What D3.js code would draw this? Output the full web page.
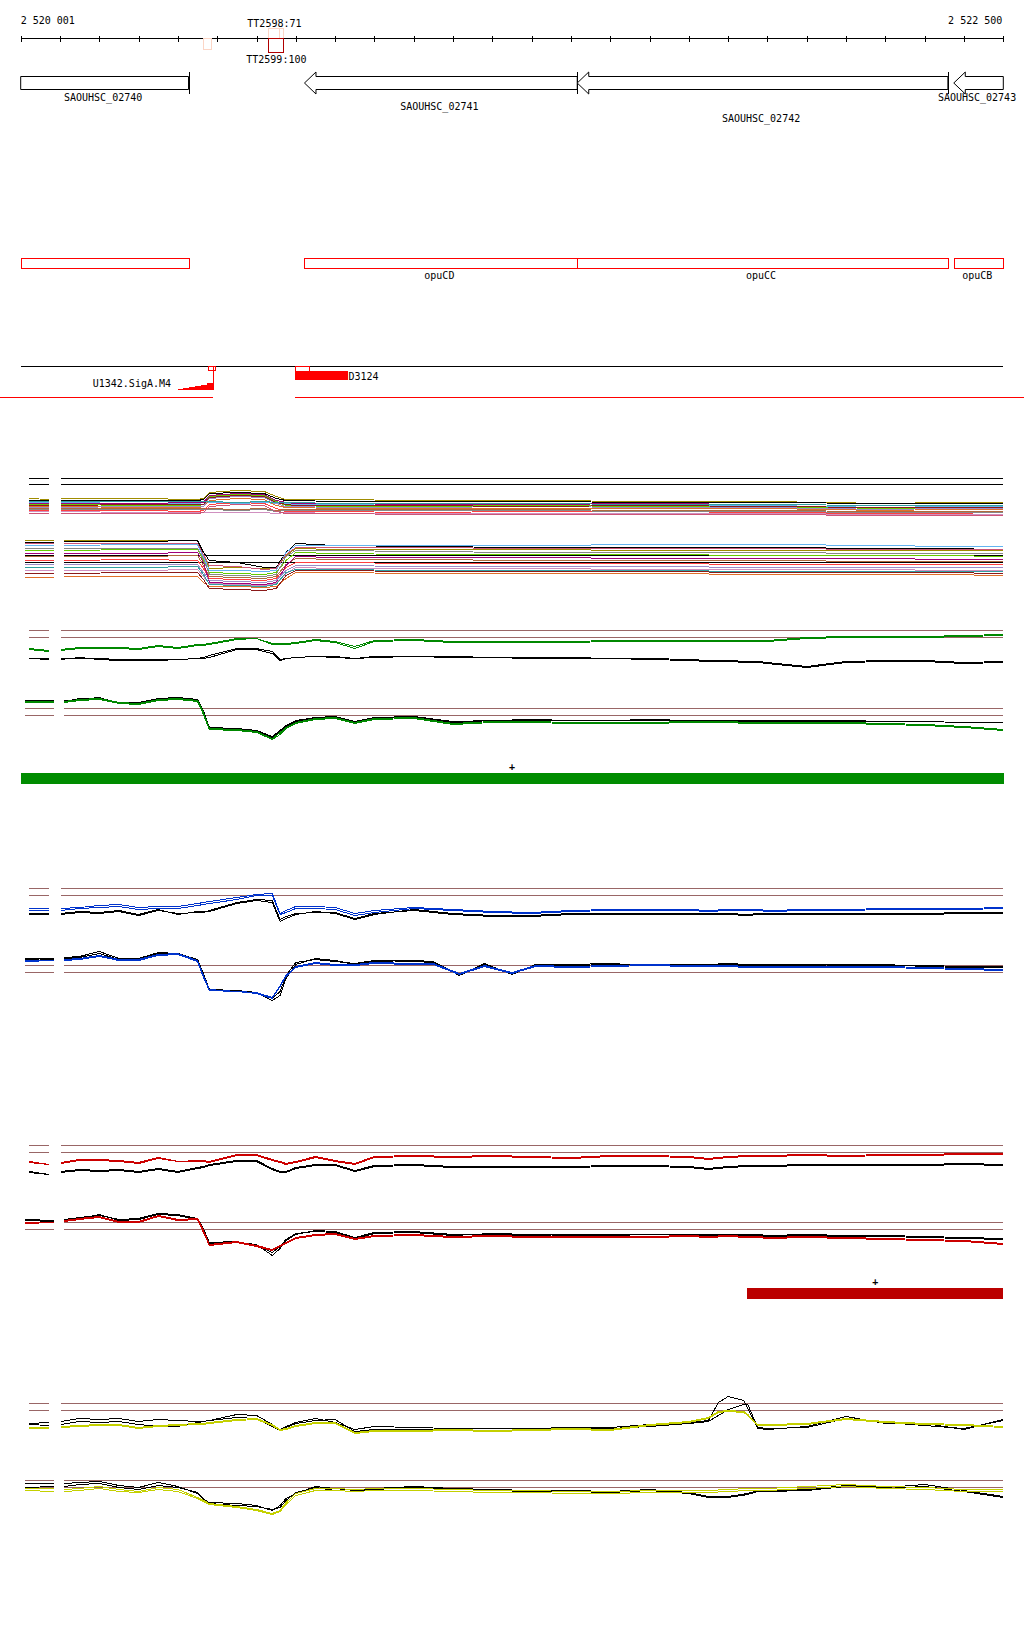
<!DOCTYPE html>
<html><head><meta charset="utf-8">
<script src="https://cdn.jsdelivr.net/npm/d3@7"></script>
<style>
body{margin:0;background:#fff}
text{font-family:"DejaVu Sans Mono",monospace;font-size:10px;fill:#000}
</style>
</head><body><svg id="c" width="1024" height="1640"></svg>
<script>
// ---------------- DATA ----------------
const domain = [2520000, 2522500];
const tickLabels = ["2 520 001", "2 522 500"];

const genes = [
  {name:"SAOUHSC_02740", start:2519900, end:2520427, strand:"-"},
  {name:"SAOUHSC_02741", start:2520722, end:2521416, strand:"-"},
  {name:"SAOUHSC_02742", start:2521416, end:2522359, strand:"-"},
  {name:"SAOUHSC_02743", start:2522374, end:2522700, strand:"-"}
];
const operons = [
  {name:"",      start:2519900, end:2520427},
  {name:"opuCD", start:2520722, end:2521416},
  {name:"opuCC", start:2521416, end:2522359},
  {name:"opuCB", start:2522375, end:2522700}
];
const terminators = [
  {name:"",           start:2520464, end:2520484, side:"down", score:78, strong:false},
  {name:"TT2598:71",  start:2520629, end:2520657, side:"up",   score:71, strong:false},
  {name:"",           start:2520657, end:2520667, side:"up",   score:71, strong:false},
  {name:"TT2599:100", start:2520629, end:2520667, side:"down", score:100, strong:true}
];
const promoterName = "U1342.SigA.M4";
const promoterTSS = 2520489;
const promoterBox = [2520477, 2520496];
const promoterStepPos = [2520385, 2520400, 2520414, 2520429, 2520444, 2520459, 2520474, 2520489];
const promoterStepScore = [1, 4, 7, 9, 12, 15, 20];
const regionName = "D3124";
const regionSpan = [2520699, 2520834];
const regionBox = [2520699, 2520734];
const transcriptGap = [2520489, 2520699];
const greenBar = {start:2520000, end:2522500, strand:"+"};
const redBar = {start:2521848, end:2522500, strand:"+"};

// positions (bp) for signal tracks; index 2 is a gap
const coarseRest = [2520300,2520450,2520465,2520480,2520550,2520620,2520650,2520675,2520700,2520800,2521000,2521300,2521600,2521900,2522200,2522350,2522500];
const fineRest = [2520150,2520200,2520250,2520300,2520350,2520400,2520450,2520465,2520480,2520550,2520600,2520640,2520660,2520675,2520700,2520750,2520800,2520850,2520900,2521000,2521100,2521200,2521300,2521400,2521500,2521600,2521700,2521750,2521800,2521850,2521875,2521900,2522000,2522100,2522200,2522300,2522400,2522500];
const fineRestB = [2520150,2520200,2520250,2520300,2520350,2520400,2520450,2520465,2520480,2520550,2520600,2520640,2520660,2520675,2520700,2520750,2520800,2520850,2520900,2521000,2521050,2521116,2521180,2521250,2521310,2521400,2521500,2521600,2521700,2521750,2521800,2521850,2521875,2521900,2522000,2522100,2522200,2522300,2522400,2522500];
const fineRestY = [2520150,2520200,2520250,2520300,2520350,2520400,2520450,2520465,2520480,2520550,2520600,2520640,2520660,2520675,2520700,2520750,2520800,2520850,2520900,2521000,2521100,2521200,2521300,2521400,2521500,2521600,2521700,2521750,2521775,2521800,2521840,2521850,2521875,2521900,2522000,2522100,2522200,2522300,2522400,2522500];
const stubTopPos = [2520022, 2520073, 2520088, 2520102];
const stubBotPos = [2520011, 2520085, 2520097, 2520110];
const posCoarseTop = stubTopPos.concat(coarseRest);
const posCoarseBottom = stubBotPos.concat(coarseRest);
const posFineTop = stubTopPos.concat(fineRest);
const posFineBottom = stubBotPos.concat(fineRest);
const posBlueBottom = stubBotPos.concat(fineRestB);
const posYellowTop = stubTopPos.concat(fineRestY);

// panel 1 (many samples), top and bottom subtracks
const p1Ref = {top:[42,36], bottom:[45,38]};
const p1Top = [
  [22,21,null,22,22,21,22,28,30,29,24,21,21,21,20,20,19,19,17,18,18],
  [20,20,null,20,20,20,21,27,28,27,22,20,20,19,19,19,18,18,17,17,17],
  [18,18,null,18,17,17,18,18,17,18,17,17,16,16,15,15,15,15,13,14,14],
  [16,16,null,16,15,15,16,24,26,25,19,15,15,14,14,15,14,14,12,12,13],
  [14,14,null,14,13,13,14,20,22,21,15,13,13,12,12,12,12,12,10,11,11],
  [12,12,null,12,12,12,12,12,11,12,10,11,11,11,11,11,10,10,9,9,9],
  [10,10,null,10,10,9,10,16,18,17,12,9,9,9,8,9,9,8,7,7,8],
  [17,17,null,17,17,18,18,25,27,26,20,18,17,17,16,16,17,16,15,15,15],
  [9,9,null,9,8,8,8,8,8,8,7,8,8,7,7,7,7,7,6,6,6],
  [13,13,null,13,14,14,14,22,24,23,17,14,14,13,13,14,13,13,11,12,12],
  [11,11,null,11,11,11,11,11,10,11,9,10,10,10,10,10,9,9,8,8,8],
  [15,15,null,15,16,16,16,23,25,24,18,16,15,15,15,14,15,14,13,13,13],
  [19,19,null,19,19,19,19,19,18,19,18,18,18,17,17,17,16,16,15,15,15],
  [7,7,null,7,7,7,8,14,16,15,9,7,7,7,6,6,6,6,5,5,5]
];
const p1Bottom = [
  [60,60,null,60,60,60,45,32,33,32,33,45,52,51,51,51,50,50,50,50,50],
  [58,58,null,59,59,60,48,40,38,33,33,48,57,55,54,53,53,53,52,52,51],
  [55,55,null,55,56,56,44,30,30,29,30,48,55,55,55,55,56,56,55,54,54],
  [50,50,null,50,51,51,40,28,27,26,28,40,48,47,46,46,46,45,45,45,44],
  [23,23,null,24,24,24,18,14,14,13,14,22,28,28,27,27,27,26,26,26,25],
  [44,44,null,44,44,45,35,24,23,22,24,36,42,41,41,40,40,40,39,39,39],
  [40,40,null,40,41,40,32,22,21,20,22,33,38,38,37,37,37,36,36,36,36],
  [47,47,null,47,47,48,38,18,17,16,18,35,44,43,43,43,42,42,42,41,41],
  [30,30,null,30,30,31,24,17,16,15,17,27,33,32,32,32,31,31,31,30,30],
  [36,36,null,36,36,36,28,20,19,18,20,30,35,35,34,34,34,33,33,33,33],
  [52,52,null,52,52,52,42,26,25,24,26,44,50,50,49,48,48,48,47,47,47],
  [27,27,null,27,28,28,21,12,11,10,12,25,30,30,29,29,29,28,28,28,27],
  [33,33,null,33,33,34,26,16,15,14,16,28,31,31,30,30,30,29,29,29,29],
  [57,57,null,57,57,57,46,35,34,31,32,46,53,53,53,52,52,52,51,51,51]
];
const p1Colors = ["#a08c00","#000000","#64b4f0","#66cc00","#e0702a","#b06a3c","#ff4040","#a0007a","#d090c0","#9c8cc8","#888888","#8b1a1a","#30a0a0","#cc5577"];

// paired panels: [black1, black2, colour1, colour2]
const refLevels = [40, 33];
const greenTop = [
  [12,11,null,11,13,11,10,10,10,11,12,12,13,21,21,17,10,12,13,14,13,12,13,14,13,13,12,12,12,11,10,9,9,8,8,7,3,8,9,9,7,8],
  [12,12,null,12,12,12,11,11,11,11,12,13,15,22,22,19,11,12,13,14,14,12,14,14,14,13,13,13,12,12,11,10,10,9,9,8,4,9,10,10,8,9],
  [22,20,null,21,23,23,23,22,25,23,26,26,27,32,32,27,27,27,28,31,29,24,30,31,29,29,29,29,30,30,30,30,30,30,30,30,33,34,34,34,35,36],
  [21,19,null,20,22,22,22,21,24,22,25,25,26,31,32,26,26,26,27,30,28,22,29,30,28,28,28,28,29,29,29,29,29,29,29,29,32,33,33,33,34,35]
];
const greenBottom = [
  [48,48,null,48,49,51,45,46,50,51,49,38,20,19,18,11,17,22,27,31,32,27,31,31,26,28,28,28,28,28,28,28,28,27,27,27,27,27,27,27,26,26],
  [47,48,null,47,50,50,46,45,50,50,48,37,21,20,18,12,18,23,28,31,31,27,31,32,27,28,29,28,28,29,28,28,28,28,28,28,28,28,27,27,26,26],
  [47,47,null,47,49,50,46,45,49,50,48,36,20,19,17,10,16,21,26,30,31,26,30,31,25,27,27,26,26,26,27,27,27,26,26,26,26,26,25,24,22,19],
  [46,46,null,46,48,49,45,44,48,49,47,34,19,18,16,9,14,20,25,29,30,25,29,30,24,26,26,25,25,25,26,26,26,25,25,25,25,25,24,23,21,18]
];
const blueTop = [
  [15,15,null,15,17,16,18,14,19,14,17,17,17,25,28,26,7,10,14,17,15,9,14,19,15,13,13,15,15,15,15,15,15,14,15,15,15,15,15,15,16,16],
  [14,14,null,14,16,15,17,13,18,15,16,16,18,26,29,28,9,12,15,16,16,10,15,18,14,12,12,14,14,14,14,14,14,13,14,14,14,14,14,14,15,15],
  [20,20,null,20,21,23,24,21,22,22,25,26,27,31,34,35,15,18,22,22,21,15,18,21,19,17,16,18,19,19,19,18,19,19,19,18,19,19,20,20,20,21],
  [18,18,null,18,20,21,22,19,20,20,23,24,25,29,33,33,14,16,20,20,19,13,16,20,18,16,15,17,18,18,18,17,18,18,18,17,18,18,19,19,19,20]
];
const blueBottom = [
  [47,46,null,48,49,54,47,47,53,52,46,32,16,15,13,5,10,27,41,47,45,41,44,45,44,30,42,31,41,40,41,41,41,41,42,41,41,41,41,40,40,40,39,39],
  [46,47,null,47,48,52,46,46,52,51,44,30,15,14,12,7,14,30,43,46,44,42,45,44,43,31,41,32,40,41,42,40,40,40,41,40,40,40,40,41,41,39,38,38],
  [45,45,null,46,47,50,46,46,51,52,45,30,16,14,13,8,20,30,39,43,41,41,43,42,42,32,40,33,40,39,40,41,40,40,40,39,39,39,39,39,39,38,37,36],
  [44,45,null,45,46,49,45,45,50,51,44,28,15,14,12,7,19,29,38,42,40,40,42,41,41,31,39,32,39,38,39,40,39,39,39,38,38,38,38,38,38,37,36,35]
];
const redTop = [
  [14,11,null,14,16,15,16,14,17,14,18,19,21,25,25,17,14,14,18,21,21,15,20,21,19,19,19,19,20,20,19,17,19,20,20,20,21,21,21,21,22,21],
  [13,11,null,13,15,14,15,13,16,13,17,18,20,24,24,16,13,13,17,20,20,14,19,20,18,18,18,18,19,19,18,16,18,19,19,19,20,20,20,20,21,20],
  [24,21,null,23,26,26,25,23,28,24,25,25,24,31,31,26,24,22,24,29,25,22,29,30,29,30,29,28,30,30,29,27,29,30,30,30,31,30,31,31,32,32],
  [23,21,null,22,25,25,24,22,27,24,24,24,23,30,30,25,23,21,23,28,24,21,28,29,28,29,28,27,29,29,28,26,28,29,29,29,30,29,30,30,31,31]
];
const redBottom = [
  [43,42,null,43,45,47,43,44,49,48,44,34,19,20,18,7,14,22,28,32,31,25,30,31,28,28,27,28,28,28,28,28,28,28,28,27,28,27,27,26,25,24],
  [42,41,null,42,44,48,42,43,48,47,43,33,20,21,17,10,16,23,29,31,30,24,29,30,27,29,28,27,27,28,27,27,27,27,27,26,27,26,26,25,24,23],
  [40,40,null,42,44,46,41,41,47,43,44,32,18,21,17,13,17,20,25,28,29,24,27,28,26,27,26,26,26,26,27,26,27,26,26,25,26,25,24,23,22,19],
  [39,40,null,41,43,45,40,40,46,42,43,30,17,20,16,12,16,19,24,27,28,23,26,27,25,26,25,25,25,25,26,25,26,25,25,24,25,24,23,22,21,18]
];
const yellowTop = [
  [20,21,null,22,25,24,25,22,24,23,22,22,23,29,28,19,14,17,21,25,21,14,17,16,15,15,15,16,16,19,21,23,41,47,43,35,15,14,17,27,20,20,14,24],
  [19,18,null,19,22,21,22,19,17,17,21,22,23,26,25,17,13,16,20,23,24,12,14,14,14,13,13,14,15,17,20,22,28,34,39,39,16,15,16,25,21,18,15,23],
  [16,16,null,17,18,19,19,16,18,19,20,20,21,24,25,19,14,15,18,21,21,11,13,13,14,13,14,15,14,19,22,26,32,33,32,29,19,19,20,25,22,20,19,17],
  [15,15,null,16,17,18,18,15,17,18,19,19,20,23,24,18,13,14,17,20,20,10,12,12,13,12,13,14,13,18,21,25,31,32,31,28,18,18,19,24,21,19,18,16]
];
const yellowBottom = [
  [37,37,null,37,38,39,35,33,38,34,27,21,18,17,15,10,15,22,27,34,32,30,32,34,32,31,30,30,29,31,28,24,24,27,30,30,31,35,33,36,30,24],
  [33,34,null,34,36,37,33,31,35,33,28,22,17,15,14,11,13,20,28,33,30,29,31,33,31,30,29,29,28,30,27,23,23,26,29,29,30,34,32,34,29,23],
  [32,32,null,31,32,34,31,29,33,31,23,20,17,14,11,7,10,18,27,32,32,31,32,32,31,30,30,29,29,30,30,30,31,32,32,32,34,36,34,33,31,31],
  [30,29,null,29,30,32,29,28,31,29,22,19,16,13,10,6,9,16,25,30,30,29,30,30,29,28,28,27,27,28,28,28,29,30,30,30,32,34,32,31,29,29]
];

// ---------------- LAYOUT / STYLE ----------------
const svg = d3.select("#c");
const x = d3.scaleLinear().domain(domain).range([20.7, 1003.3]);
const W = 1024;
const crisp = v => Math.round(v) + 0.5;

// ruler
const axisY = 38.5;
svg.append("line").attr("x1", x(domain[0])).attr("x2", x(domain[1]))
  .attr("y1", axisY).attr("y2", axisY).attr("stroke", "#000").attr("shape-rendering","crispEdges");
svg.selectAll("line.tk").data(x.ticks(25)).join("line").attr("class","tk")
  .attr("x1", d => crisp(x(d))).attr("x2", d => crisp(x(d)))
  .attr("y1", 35.5).attr("y2", 41.5).attr("stroke", "#000").attr("shape-rendering","crispEdges");
svg.append("text").attr("x", x(domain[0])).attr("y", 24).text(tickLabels[0]);
svg.append("text").attr("x", x(domain[1]) - 1).attr("y", 24).attr("text-anchor","end").text(tickLabels[1]);

// terminators
const tH = d3.scaleLinear().domain([0,100]).range([0,14]);
terminators.forEach(t => {
  const x0 = x(t.start), x1 = x(t.end), h = tH(t.score);
  const y0 = t.side === "up" ? axisY - h : axisY;
  svg.append("rect").attr("x", crisp(x0)).attr("y", y0).attr("width", Math.round(x1 - x0)).attr("height", h)
    .attr("fill", "none").attr("stroke", t.strong ? "#b00000" : "#fcd6c6").attr("shape-rendering","crispEdges");
  if (t.name) {
    svg.append("text").attr("x", (x0 + x1) / 2 + 1).attr("y", t.side === "up" ? 27 : 62.7)
      .attr("text-anchor", "middle").text(t.name);
  }
});

// genes
const gTop = 76.5, gBot = 89.5, gMid = 83, headL = 11.5, tickTop = 72, tickBot = 94;
const labelRows = [100.7, 110, 121.7];
genes.forEach((g, i) => {
  const s = Math.max(g.start, domain[0]), e = Math.min(g.end, domain[1]);
  const xs = x(s), xe = x(e);
  let pts;
  if (g.strand === "-" && g.start >= domain[0]) {
    pts = [[xs, gMid],[xs+headL, tickTop],[xs+headL, gTop],[xe, gTop],[xe, gBot],[xs+headL, gBot],[xs+headL, tickBot]];
  } else {
    pts = [[xs, gTop],[xe, gTop],[xe, gBot],[xs, gBot]];
  }
  svg.append("polygon").attr("points", pts.map(p => p.join(",")).join(" "))
    .attr("fill", "#fff").attr("stroke", "#000");
  if (g.end <= domain[1]) {
    svg.append("line").attr("x1", crisp(xe)).attr("x2", crisp(xe)).attr("y1", tickTop).attr("y2", tickBot)
      .attr("stroke", "#000").attr("shape-rendering","crispEdges");
  }
  svg.append("text").attr("x", (xs + xe) / 2 - 1.5).attr("y", labelRows[i % 3]).attr("text-anchor","middle").text(g.name);
});

// operon boxes
operons.forEach(o => {
  const xs = x(Math.max(o.start, domain[0])), xe = x(Math.min(o.end, domain[1]));
  svg.append("rect").attr("x", crisp(xs)).attr("y", 258.5).attr("width", Math.round(xe - xs)).attr("height", 10)
    .attr("fill","none").attr("stroke","#ff0000").attr("shape-rendering","crispEdges");
  if (o.name) svg.append("text").attr("x", (xs + xe) / 2 - 1.5).attr("y", 278.7).attr("text-anchor","middle").text(o.name);
});

// transcript line and promoter / region
svg.append("line").attr("x1", x(domain[0])).attr("x2", x(domain[1])).attr("y1", 366.5).attr("y2", 366.5)
  .attr("stroke","#000").attr("shape-rendering","crispEdges");
svg.append("line").attr("x1", 0).attr("x2", x(transcriptGap[0])).attr("y1", 397.5).attr("y2", 397.5)
  .attr("stroke","#ff0000").attr("shape-rendering","crispEdges");
svg.append("line").attr("x1", x(transcriptGap[1])).attr("x2", W).attr("y1", 397.5).attr("y2", 397.5)
  .attr("stroke","#ff0000").attr("shape-rendering","crispEdges");

const pY = d3.scaleLinear().domain([0, 20]).range([390, 383]);
const stepData = promoterStepPos.map((p, i) => [p, i < promoterStepScore.length ? promoterStepScore[i] : promoterStepScore[promoterStepScore.length-1]]);
svg.append("path").datum(stepData)
  .attr("d", d3.area().curve(d3.curveStepAfter).x(d => x(d[0])).y0(pY(0)).y1(d => pY(d[1])))
  .attr("fill", "#ff0000").attr("shape-rendering","crispEdges");
svg.append("line").attr("x1", crisp(x(promoterTSS))).attr("x2", crisp(x(promoterTSS))).attr("y1", 366).attr("y2", 390)
  .attr("stroke","#ff0000").attr("shape-rendering","crispEdges");
svg.append("rect").attr("x", crisp(x(promoterBox[0]))).attr("y", 366.5)
  .attr("width", Math.round(x(promoterBox[1]) - x(promoterBox[0]))).attr("height", 4)
  .attr("fill","none").attr("stroke","#ff0000").attr("shape-rendering","crispEdges");
svg.append("text").attr("x", x(promoterStepPos[0]) - 1).attr("y", 386.7).attr("text-anchor","end").text(promoterName);

svg.append("rect").attr("x", Math.round(x(regionSpan[0]))).attr("y", 371)
  .attr("width", Math.round(x(regionSpan[1]) - x(regionSpan[0]))).attr("height", 9).attr("fill","#ff0000");
svg.append("rect").attr("x", crisp(x(regionBox[0]))).attr("y", 366.5)
  .attr("width", Math.round(x(regionBox[1]) - x(regionBox[0]))).attr("height", 4.5)
  .attr("fill","none").attr("stroke","#ff0000").attr("shape-rendering","crispEdges");
svg.append("text").attr("x", x(regionSpan[1])).attr("y", 379.5).text(regionName);

// signal tracks
function drawSub(series, pos, y0, refs, refColor, colors, stubRange, mainStart) {
  const y = d3.scaleLinear().domain([0, 100]).range([y0, y0 - 100]);
  const g = svg.append("g");
  refs.forEach(r => {
    const yy = crisp(y(r));
    [[stubRange[0], stubRange[1]], [mainStart, domain[1]]].forEach(seg => {
      g.append("line").attr("x1", x(seg[0])).attr("x2", x(seg[1])).attr("y1", yy).attr("y2", yy)
        .attr("stroke", refColor).attr("shape-rendering","crispEdges");
    });
  });
  const line = d3.line().defined(d => d[1] != null).x(d => x(d[0])).y(d => y(d[1]) + 0.5);
  series.forEach((s, i) => {
    g.append("path").datum(s.map((v, k) => [pos[k], v])).attr("d", line)
      .attr("fill","none").attr("stroke", colors[i]).attr("stroke-width", 1).attr("shape-rendering","crispEdges");
  });
}
const stubTop = [stubTopPos[0], stubTopPos[1]], stubBot = [stubBotPos[0], stubBotPos[1]];
drawSub(p1Top, posCoarseTop, 520, p1Ref.top, "#000", p1Colors, stubTop, stubTopPos[3]);
drawSub(p1Bottom, posCoarseBottom, 600, p1Ref.bottom, "#000", p1Colors, stubBot, stubBotPos[3]);

const pairs = [
  {top:greenTop, bottom:greenBottom, posT:posFineTop, posB:posFineBottom, color:"#008800", yTop:670, yBot:748},
  {top:blueTop, bottom:blueBottom, posT:posFineTop, posB:posBlueBottom, color:"#0033cc", yTop:928, yBot:1005},
  {top:redTop, bottom:redBottom, posT:posFineTop, posB:posFineBottom, color:"#cc0000", yTop:1185, yBot:1262},
  {top:yellowTop, bottom:yellowBottom, posT:posYellowTop, posB:posFineBottom, color:"#c4d000", yTop:1443, yBot:1520}
];
pairs.forEach(p => {
  const cols = ["#000","#000", p.color, p.color];
  drawSub(p.top, p.posT, p.yTop, refLevels, "#996666", cols, stubTop, stubTopPos[3]);
  drawSub(p.bottom, p.posB, p.yBot, refLevels, "#996666", cols, stubBot, stubBotPos[3]);
});

// strand bars
function bar(b, yTop, color) {
  const xs = x(b.start), xe = x(b.end);
  svg.append("rect").attr("x", Math.round(xs)).attr("y", yTop).attr("width", Math.round(xe - xs)).attr("height", 11).attr("fill", color);
  svg.append("text").attr("x", (xs + xe) / 2).attr("y", yTop - 3.5).attr("text-anchor","middle")
    .style("font-weight","bold").text(b.strand);
}
bar(greenBar, 773, "#008c00");
bar(redBar, 1288, "#bb0000");
</script>
</body></html>
